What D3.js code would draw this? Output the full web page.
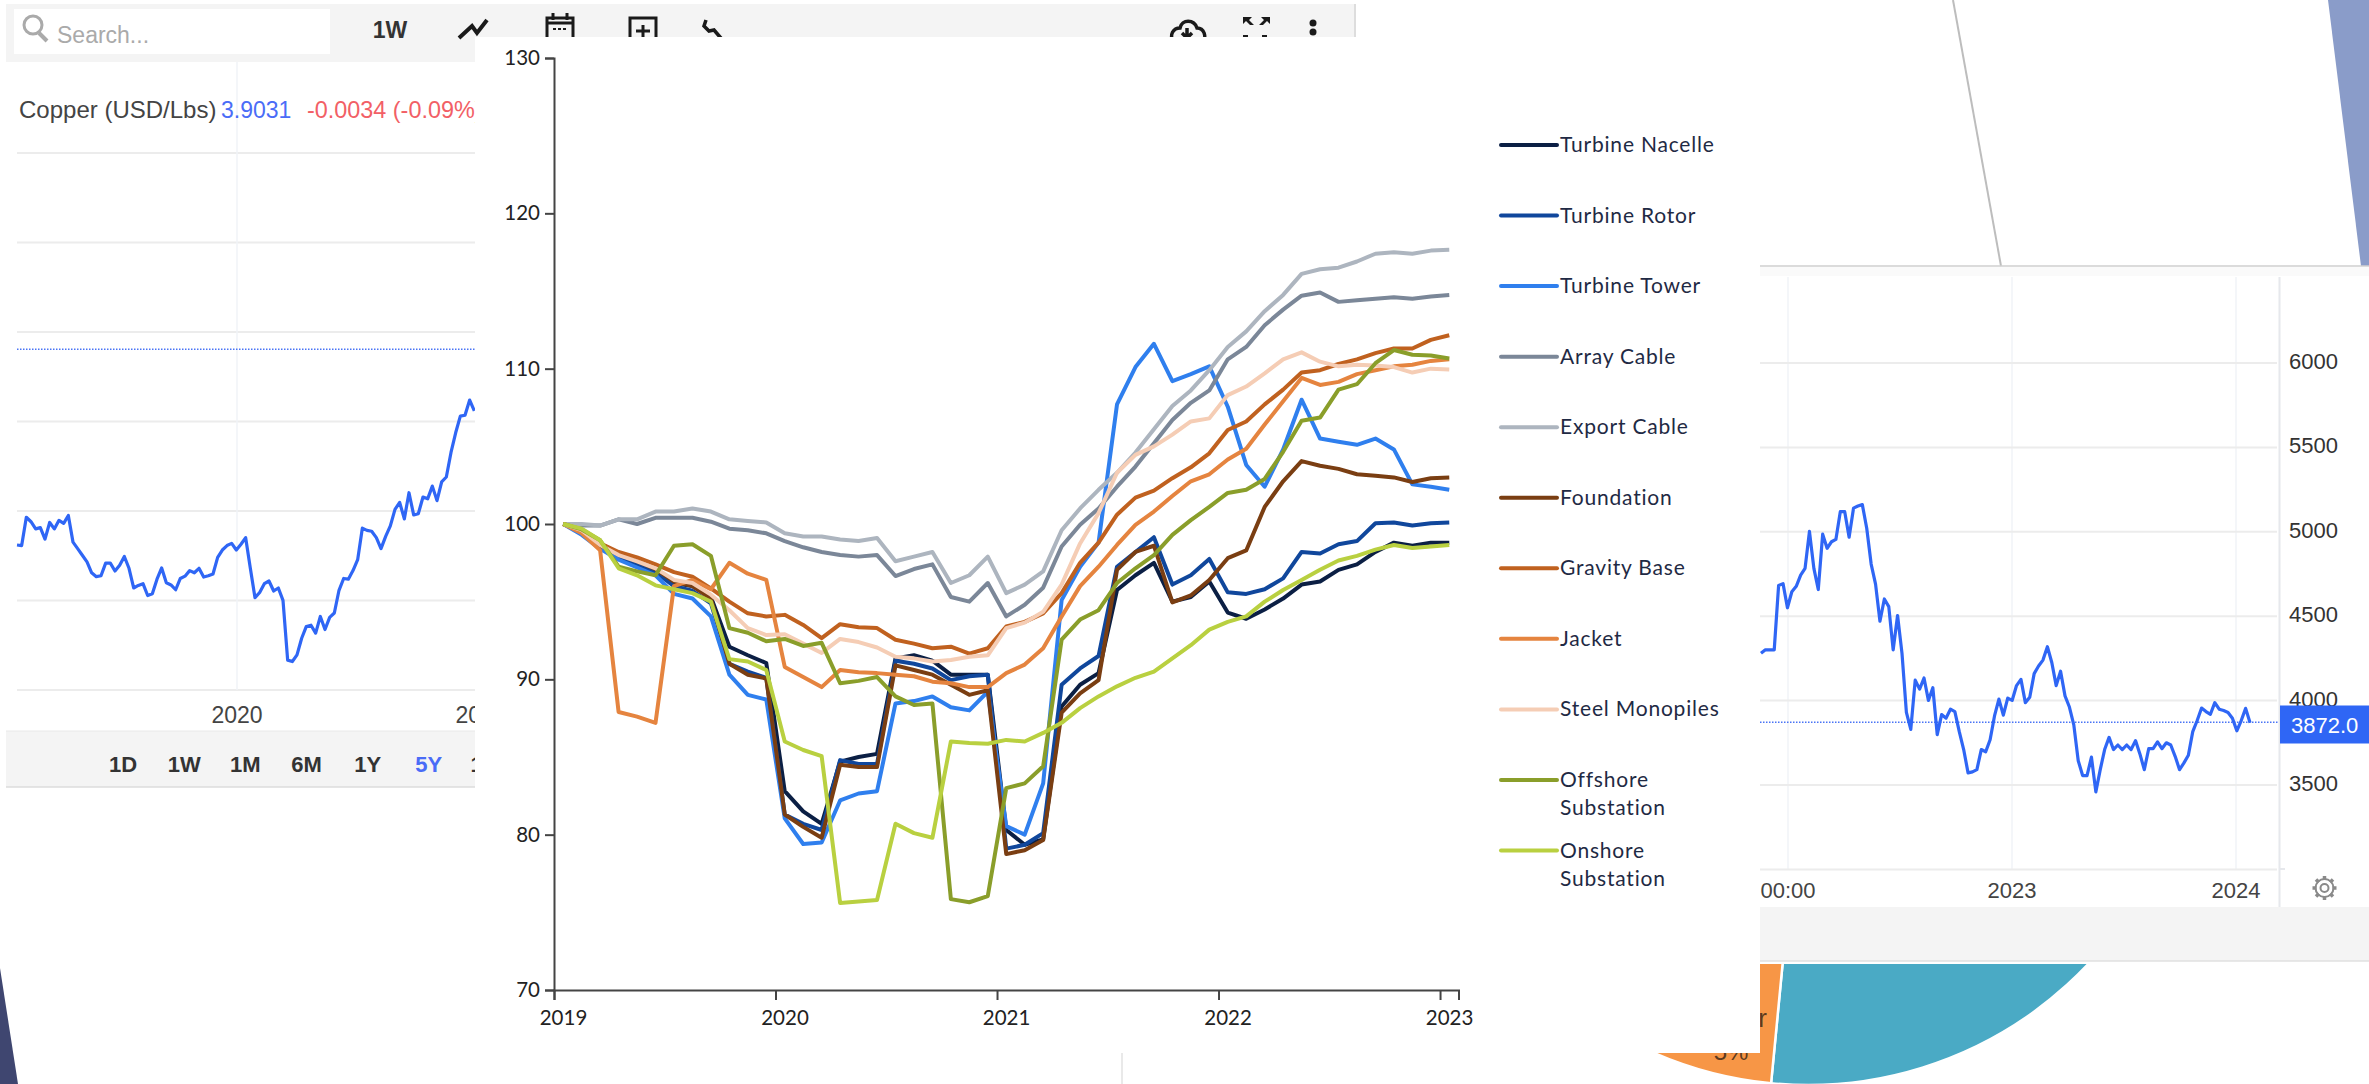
<!DOCTYPE html>
<html><head><meta charset="utf-8">
<script src="https://cdn.jsdelivr.net/npm/d3@7"></script>
<style>html,body{margin:0;padding:0;background:#fff;overflow:hidden}svg{display:block}</style>
</head><body><svg id="c" width="2369" height="1084"></svg>
<script>
// ---------- main chart data (index 2019 = 100, monthly) ----------
const yearLabels = ["2019","2020","2021","2022","2023"];
const yTicks = [70,80,90,100,110,120,130];
const turbineNacelle = [100,99.6,98.75,98.1,97.55,97,96.2,96,95.3,92.1,91.55,91.05,82.8,81.5,80.7,84.7,85,85.2,91.35,91.55,91.2,90.3,90.3,90.3,80.3,79.35,79.7,88.25,89.65,90.4,95.75,96.7,97.5,95,95.3,96.3,94.3,93.9,94.5,95.2,96.1,96.3,97.05,97.4,98.2,98.8,98.6,98.8,98.8];
const turbineRotor = [100,99.5,98.5,97.9,97.4,96.9,96,95.7,94.9,91,90.5,90.1,81.3,80.7,80.3,84.8,84.55,84.55,91.2,91,90.7,89.95,90.2,90.3,79.1,79.35,80.1,89.65,90.7,91.5,97.25,98.2,99.15,96.1,96.7,97.75,95.6,95.5,95.8,96.5,98.2,98.1,98.7,98.9,100.05,100.1,99.9,100.05,100.1];
const turbineTower = [100,99.3,98.4,97.7,97.2,96.7,95.5,95.2,94.05,90.3,89,88.7,81.05,79.4,79.5,82.2,82.65,82.8,88.45,88.6,88.9,88.2,88,89.2,80.55,80,83.3,95.1,97.25,98.8,107.7,110.1,111.6,109.2,109.65,110.15,107.55,103.8,102.4,104.8,108,105.5,105.3,105.1,105.5,104.8,102.55,102.4,102.2];
const arrayCable = [100,99.9,99.9,100.3,100,100.4,100.4,100.4,100.15,99.7,99.6,99.4,98.9,98.5,98.2,98,97.9,98,96.65,97.1,97.4,95.3,95,96.2,94.05,94.8,95.9,98.55,99.95,101,102.4,103.7,105.2,106.7,107.8,108.6,110.6,111.4,112.8,113.8,114.7,114.9,114.3,114.4,114.5,114.6,114.5,114.65,114.75];
const exportCable = [100,100,99.9,100.3,100.3,100.8,100.8,101,100.8,100.3,100.2,100.1,99.4,99.2,99.2,99,98.9,99.1,97.6,97.9,98.2,96.2,96.7,97.9,95.55,96.1,96.95,99.6,101,102.2,103.3,104.6,106.1,107.6,108.6,109.9,111.4,112.4,113.7,114.75,116.1,116.4,116.5,116.9,117.4,117.5,117.4,117.6,117.65];
const foundation = [100,99.6,98.6,98.1,97.6,97.1,96.3,96,95.2,91,90.3,90.05,81.3,80.5,79.8,84.5,84.35,84.35,90.9,90.6,90.3,89.65,89,89.3,78.75,79,79.65,87.85,89.1,89.95,97.05,98.2,98.6,94.95,95.4,96.4,97.8,98.3,101.1,102.75,104.05,103.75,103.55,103.2,103.1,103,102.7,102.95,103];
const gravityBase = [100,99.6,98.75,98.2,97.85,97.4,96.9,96.6,95.85,95,94.25,94.05,94.15,93.5,92.65,93.55,93.35,93.3,92.55,92.3,92,92.1,91.65,92,93.4,93.7,94.25,95.55,97.5,98.8,100.6,101.7,102.15,102.95,103.65,104.55,106.05,106.6,107.7,108.65,109.75,109.9,110.3,110.6,111,111.3,111.3,111.85,112.15];
const jacket = [100,99.4,98.3,87.9,87.6,87.2,96,96.4,95.8,97.5,96.8,96.4,90.8,90.15,89.5,90.6,90.45,90.4,90.3,90.2,89.85,89.75,89.5,89.5,90.4,90.95,92,94.05,96,97.25,98.65,99.95,100.8,101.8,102.75,103.2,104.15,104.85,106.4,107.9,109.4,108.95,109.15,109.65,109.9,110.15,110.25,110.5,110.6];
const steelMonopiles = [100,99.6,98.65,98,97.6,97.15,96.4,96.2,95.45,94.45,93.3,92.85,92.9,92.3,91.7,92.6,92.4,92.05,91.45,91.35,91.15,91.25,91.45,91.55,93.3,93.65,94.35,96.1,98.75,100.7,103.3,104.45,105,105.75,106.6,106.8,108.3,108.85,109.7,110.6,111.05,110.45,110.15,110.25,110.2,110.1,109.75,110,109.95];
const offshoreSubstation = [100,99.65,98.95,97.25,96.95,96.7,98.6,98.7,97.95,93.3,93,92.45,92.6,92.15,92.35,89.75,89.9,90.15,88.9,88.35,88.45,75.85,75.65,76.05,83,83.3,84.4,92.55,93.85,94.45,96.2,97.15,98,99.3,100.25,101.1,102,102.2,102.9,104.65,106.65,106.85,108.65,109,110.35,111.2,110.9,110.85,110.65];
const onshoreSubstation = [100,99.7,98.95,97.15,96.7,96.05,95.8,95.55,95,91.3,91.15,90.6,86,85.45,85.05,75.6,75.7,75.8,80.7,80.1,79.8,86,85.9,85.85,86.1,86,86.55,87.2,88.15,88.9,89.55,90.1,90.5,91.35,92.2,93.2,93.7,94.05,95,95.75,96.4,97.05,97.65,97.95,98.35,98.65,98.45,98.55,98.65];
const seriesLabels = ["Turbine Nacelle","Turbine Rotor","Turbine Tower","Array Cable","Export Cable","Foundation","Gravity Base","Jacket","Steel Monopiles","Offshore\nSubstation","Onshore\nSubstation"];
const seriesValues = [turbineNacelle,turbineRotor,turbineTower,arrayCable,exportCable,foundation,gravityBase,jacket,steelMonopiles,offshoreSubstation,onshoreSubstation];
const seriesColors = ["#0b1f44","#10479c","#2f7fee","#7b8798","#adb5bf","#7a3e12","#c0611f","#e5843f","#f5cdb5","#8a9e2a","#b9d040"];

// ---------- background screenshot charts ----------
const copperValues = [2.81,2.807,2.965,2.94,2.9,2.907,2.843,2.936,2.9,2.948,2.931,2.975,2.826,2.79,2.753,2.716,2.655,2.633,2.638,2.709,2.709,2.665,2.697,2.746,2.68,2.57,2.584,2.594,2.528,2.538,2.619,2.682,2.599,2.587,2.56,2.623,2.636,2.667,2.655,2.68,2.631,2.638,2.648,2.741,2.782,2.807,2.819,2.782,2.814,2.851,2.68,2.516,2.545,2.594,2.609,2.553,2.57,2.501,2.167,2.159,2.196,2.289,2.355,2.362,2.318,2.411,2.338,2.406,2.43,2.557,2.623,2.619,2.667,2.728,2.904,2.892,2.887,2.851,2.79,2.858,2.917,3.009,3.048,2.956,3.102,2.978,2.985,3.078,3.068,3.139,3.058,3.163,3.19,3.327,3.437,3.53,3.535,3.62,3.559];
const copperGrid = [2,2.5,3,3.5,4,4.5,5];
const copperLast = 3.9031;
const copperRange = ["1D","1W","1M","6M","1Y","5Y","10Y"];
const tradingValues = [4280,4301,4301,4301,4682,4693,4550,4645,4677,4743,4783,5002,4783,4658,4986,4902,4941,4955,5119,5119,4968,5140,5153,5161,5021,4809,4690,4470,4602,4557,4301,4504,4280,3930,3829,4121,4068,4134,4001,4076,3798,3917,3896,3949,3935,3816,3710,3572,3578,3591,3710,3697,3768,3909,4009,3914,4015,4001,4089,4126,3988,4020,4160,4205,4240,4319,4226,4089,4174,4028,3962,3856,3644,3556,3556,3665,3459,3591,3710,3782,3710,3737,3710,3737,3710,3763,3684,3591,3715,3715,3755,3715,3750,3737,3670,3591,3631,3676,3816,3882,3956,3935,3919,3988,3949,3941,3930,3896,3821,3882,3954,3869];
const tradingTicks = [3000,3500,4000,4500,5000,5500,6000];
const tradingLabels = [3500,4000,4500,5000,5500,6000];
const tradingLast = 3872;
const pieSlices = [{name:"Other",value:95.5,color:"#4aaac5"},{name:"r",value:18,color:"#f79646"}];

const svg = d3.select("#c");
const SANS = "'Liberation Sans',Arial,sans-serif";

// ===== Left: copper screenshot =====
const left = svg.append("g").attr("font-family",SANS);
left.append("rect").attr("x",6).attr("y",4).attr("width",1349).attr("height",58).attr("fill","#f4f4f4");
left.append("line").attr("x1",1355).attr("x2",1355).attr("y1",4).attr("y2",62).attr("stroke","#ddd").attr("stroke-width",2);
left.append("rect").attr("x",14).attr("y",9).attr("width",316).attr("height",45).attr("fill","#fff");
left.append("circle").attr("cx",33).attr("cy",25).attr("r",9).attr("fill","none").attr("stroke","#aaa").attr("stroke-width",3);
left.append("line").attr("x1",39).attr("y1",33).attr("x2",47).attr("y2",41).attr("stroke","#aaa").attr("stroke-width",4);
left.append("text").text("Search...").attr("x",57).attr("y",43).attr("font-size",23).attr("fill","#aaa");
left.append("text").text("1W").attr("x",390).attr("y",38).attr("text-anchor","middle").attr("font-size",23).attr("font-weight","bold").attr("fill","#333");
const icons = left.append("g").attr("fill","none").attr("stroke","#1a1a1a").attr("stroke-width",3);
icons.append("polyline").attr("points","459,38 472,26 477,33 487,20").attr("stroke-width",4);
icons.append("rect").attr("x",547).attr("y",18).attr("width",26).attr("height",26);
icons.append("path").attr("d","M553 13V20M567 13V20M547 23H573");
icons.append("path").attr("d","M553 29H567").attr("stroke-dasharray","3 2").attr("stroke-width",2);
icons.append("rect").attr("x",630).attr("y",18).attr("width",26).attr("height",30);
icons.append("path").attr("d","M643 25V38M636 31H650");
icons.append("path").attr("d","M706 20L704 26L709 31L714 30L726 44").attr("stroke-width",3.5);
icons.append("path").attr("d","M1174 44C1168 34 1174 28 1180 28C1182 19 1194 19 1197 28C1204 28 1207 36 1203 44").attr("stroke-width",3.5);
icons.append("path").attr("d","M1187 28V38M1182 33L1187 38L1192 33").attr("stroke-width",3.5);
const expand = left.append("g").attr("fill","#1a1a1a");
expand.append("path").attr("d","M1243 17H1252L1249 20L1254 25H1250L1246 21L1243 24Z");
expand.append("path").attr("d","M1270 17H1261L1264 20L1259 25H1263L1267 21L1270 24Z");
expand.append("rect").attr("x",1243).attr("y",35).attr("width",5).attr("height",3);
expand.append("rect").attr("x",1262).attr("y",35).attr("width",5).attr("height",3);
expand.append("circle").attr("cx",1313).attr("cy",23).attr("r",3.5);
expand.append("circle").attr("cx",1313).attr("cy",32).attr("r",3.5);

const copperY = d3.scaleLinear().domain([2,5]).range([690,153]);
const copperX = d3.scaleTime().domain([new Date(2020,0,1),new Date(2021,0,1)]).range([237,481]);
const copperDates = copperValues.map((_,i)=>d3.timeDay.offset(new Date(2019,1,5),i*7));
left.selectAll("line.cg").data(copperGrid).join("line").attr("class","cg")
  .attr("x1",17).attr("x2",475).attr("y1",d=>copperY(d)).attr("y2",d=>copperY(d)).attr("stroke","#ececec").attr("stroke-width",2);
left.append("line").attr("x1",copperX(new Date(2020,0,1))).attr("x2",copperX(new Date(2020,0,1))).attr("y1",62).attr("y2",690).attr("stroke","#f0f3f7").attr("stroke-width",1.5);
left.append("line").attr("x1",17).attr("x2",475).attr("y1",copperY(copperLast)).attr("y2",copperY(copperLast)).attr("stroke","#4a74f5").attr("stroke-width",1.5).attr("stroke-dasharray","1.5 1.5");
left.append("path").attr("d",d3.line().x((_,i)=>copperX(copperDates[i])).y(d=>copperY(d))(copperValues)).attr("fill","none").attr("stroke","#2f66f5").attr("stroke-width",3.2).attr("stroke-linejoin","round");
left.append("text").text("Copper (USD/Lbs)").attr("x",19).attr("y",118).attr("font-size",24).attr("fill","#444");
left.append("text").text(copperLast.toFixed(4)).attr("x",221).attr("y",118).attr("font-size",23).attr("fill","#4a6cf7");
left.append("text").text("-0.0034 (-0.09%)").attr("x",307).attr("y",118).attr("font-size",23.4).attr("fill","#f25f66");
left.append("text").text("2020").attr("x",copperX(new Date(2020,0,1))).attr("y",723).attr("text-anchor","middle").attr("font-size",23).attr("fill","#444");
left.append("text").text("2021").attr("x",copperX(new Date(2021,0,1))).attr("y",723).attr("text-anchor","middle").attr("font-size",23).attr("fill","#444");
left.append("rect").attr("x",6).attr("y",731).attr("width",469).attr("height",56).attr("fill","#f4f4f4");
left.append("line").attr("x1",6).attr("x2",475).attr("y1",731).attr("y2",731).attr("stroke","#e8e8e8");
left.append("line").attr("x1",6).attr("x2",475).attr("y1",787).attr("y2",787).attr("stroke","#ddd").attr("stroke-width",1.5);
const rangeX = d3.scalePoint().domain(copperRange).range([123,490]);
left.selectAll("text.rb").data(copperRange).join("text").attr("class","rb").text(d=>d)
  .attr("x",d=>rangeX(d)).attr("y",772).attr("text-anchor","middle").attr("font-size",22).attr("font-weight","bold")
  .attr("fill",d=>d==="5Y"?"#4a6cf7":"#333");

// Decorative slide shapes
svg.append("polygon").attr("points","0,968 18,1084 0,1084").attr("fill","#3f4670");
svg.append("polygon").attr("points","2328,0 2369,0 2369,266 2361,266").attr("fill","#8a9cc9");
svg.append("line").attr("x1",1953).attr("y1",0).attr("x2",2001).attr("y2",266).attr("stroke","#bdbdbd").attr("stroke-width",2);
svg.append("line").attr("x1",1122).attr("y1",1053).attr("x2",1122).attr("y2",1084).attr("stroke","#e2e2e2").attr("stroke-width",1.5);

// ===== Right: trading screenshot =====
const right = svg.append("g").attr("font-family",SANS);
right.append("line").attr("x1",1760).attr("x2",2369).attr("y1",266).attr("y2",266).attr("stroke","#cfcfcf").attr("stroke-width",1.5);
right.append("rect").attr("x",1760).attr("y",267).attr("width",609).attr("height",9).attr("fill","#fafafa");
const tY = d3.scaleLinear().domain([3000,6000]).range([869.4,363]);
const tX = d3.scaleTime().domain([new Date(2023,0,1),new Date(2024,0,1)]).range([2012,2236]);
const tDates = tradingValues.map((_,i)=>d3.timeHour.offset(new Date(2021,10,18),Math.round(i*172.3)));
const tTicks = [new Date(2022,0,1),new Date(2023,0,1),new Date(2024,0,1)];
const tTickLabels = ["00:00","2023","2024"];
right.selectAll("line.vg").data(tTicks).join("line").attr("class","vg")
  .attr("x1",d=>tX(d)).attr("x2",d=>tX(d)).attr("y1",277).attr("y2",869).attr("stroke","#f0f3f7").attr("stroke-width",1.5);
right.selectAll("line.hg").data(tradingTicks).join("line").attr("class","hg")
  .attr("x1",1760).attr("x2",2277).attr("y1",d=>tY(d)).attr("y2",d=>tY(d)).attr("stroke","#ececec").attr("stroke-width",2);
right.append("line").attr("x1",2279.5).attr("x2",2279.5).attr("y1",277).attr("y2",907).attr("stroke","#e6e8ec").attr("stroke-width",2);
right.append("line").attr("x1",2279).attr("x2",2285).attr("y1",869).attr("y2",869).attr("stroke","#e6e8ec").attr("stroke-width",2);
right.append("line").attr("x1",1760).attr("x2",2279).attr("y1",tY(tradingLast)).attr("y2",tY(tradingLast)).attr("stroke","#4a74f5").attr("stroke-width",1.5).attr("stroke-dasharray","1.5 1.5");
right.append("path").attr("d",d3.line().x((_,i)=>tX(tDates[i])).y(d=>tY(d))(tradingValues)).attr("fill","none").attr("stroke","#2f66f5").attr("stroke-width",3.2).attr("stroke-linejoin","round");
right.selectAll("text.yl").data(tradingLabels).join("text").attr("class","yl").text(d=>d)
  .attr("x",2289).attr("y",d=>tY(d)+6).attr("font-size",22).attr("fill","#333");
right.append("rect").attr("x",2280).attr("y",705.5).attr("width",89).attr("height",38).attr("fill","#2f66f5");
right.append("text").text(tradingLast.toFixed(1)).attr("x",2291).attr("y",733).attr("font-size",22).attr("fill","#fff");
right.selectAll("text.xl").data(tTicks).join("text").attr("class","xl").text((_,i)=>tTickLabels[i])
  .attr("x",d=>tX(d)).attr("y",898).attr("text-anchor","middle").attr("font-size",22).attr("fill","#444");
// gear
const gear = right.append("g").attr("transform","translate(2324.5,888)").attr("fill","none").attr("stroke","#8a8a8a");
gear.append("circle").attr("r",4).attr("stroke-width",2);
gear.append("circle").attr("r",9).attr("stroke-width",2);
gear.selectAll("line").data(d3.range(8)).join("line").attr("x1",8).attr("x2",12).attr("stroke-width",3.5).attr("transform",d=>`rotate(${d*45})`);
right.append("rect").attr("x",1760).attr("y",907).attr("width",609).attr("height",54).attr("fill","#f4f4f4");
right.append("line").attr("x1",1760).attr("x2",2369).attr("y1",961).attr("y2",961).attr("stroke","#e0e0e0").attr("stroke-width",1.5);

// Pie behind
svg.append("clipPath").attr("id","pieClip").append("rect").attr("x",1500).attr("y",964).attr("width",869).attr("height",120);
const pieG = svg.append("g").attr("clip-path","url(#pieClip)");
const pieAngles = d3.pie().value(d=>d.value).sort(null).startAngle(Math.PI/2).endAngle(Math.PI/2+(113.5*Math.PI/180))(pieSlices);
const arcGen = d3.arc().innerRadius(0).outerRadius(385);
const pieInner = pieG.append("g").attr("transform","translate(1808,700)");
pieInner.selectAll("path").data(pieAngles).join("path").attr("d",arcGen).attr("fill",d=>d.data.color).attr("stroke","#fff").attr("stroke-width",2.5);
pieG.append("text").text("Other").attr("x",1767).attr("y",1027).attr("text-anchor","end").attr("font-family",SANS).attr("font-size",26).attr("fill","#5c3a1e");
pieG.append("text").text("5%").attr("x",1731).attr("y",1060).attr("text-anchor","middle").attr("font-family",SANS).attr("font-size",24).attr("fill","#5c3a1e");

// ===== Main panel (photo on top) =====
svg.append("rect").attr("x",475).attr("y",37).attr("width",1285).attr("height",1016).attr("fill","#fff");
const main = svg.append("g").attr("font-family","Lato,'Open Sans',sans-serif");
const y = d3.scaleLinear().domain([70,130]).range([990,58]);
const monthsCount = seriesValues[0].length;
const x = d3.scaleLinear().domain([0,monthsCount]).range([554,1458.5]);

const lineGen = d3.line().x((_,i)=>x(i+0.5)).y(d=>y(d)).curve(d3.curveLinear);
main.selectAll("path.s").data(seriesValues).join("path").attr("class","s")
  .attr("d",d=>lineGen(d)).attr("fill","none").attr("stroke",(_,i)=>seriesColors[i]).attr("stroke-width",4).attr("stroke-linejoin","round");

const yAxis = main.append("g").attr("transform","translate(554,0)").call(d3.axisLeft(y).tickValues(yTicks).tickSize(9).tickPadding(5));
const xAxis = main.append("g").attr("transform","translate(0,990)").call(d3.axisBottom(x).tickValues(yearLabels.map((_,i)=>i*12)).tickSize(10).tickPadding(10).tickFormat((_,i)=>yearLabels[i]));
[yAxis,xAxis].forEach(a=>{
  a.attr("font-family",null).attr("font-size",null);
  a.select(".domain").attr("stroke","#444").attr("stroke-width",2);
  a.selectAll(".tick line").attr("stroke","#444").attr("stroke-width",2);
  a.selectAll(".tick text").attr("font-size",20.5).attr("fill","#222");
});
xAxis.selectAll(".tick text").attr("dx",9).attr("y",20);

const legendY = d3.scalePoint().domain(seriesLabels).range([145,850.5]);
const lg = main.selectAll("g.lg").data(seriesLabels).join("g").attr("class","lg").attr("transform",d=>`translate(0,${legendY(d)})`);
lg.append("line").attr("x1",1501).attr("x2",1557).attr("stroke",(_,i)=>seriesColors[i]).attr("stroke-width",4).attr("stroke-linecap","round");
lg.each(function(d){
  d.split("\n").forEach((t,k)=>{
    d3.select(this).append("text").text(t).attr("x",1560).attr("y",7+k*28.5).attr("font-size",21).attr("letter-spacing",0.8).attr("fill","#1f2a44");
  });
});
</script></body></html>
